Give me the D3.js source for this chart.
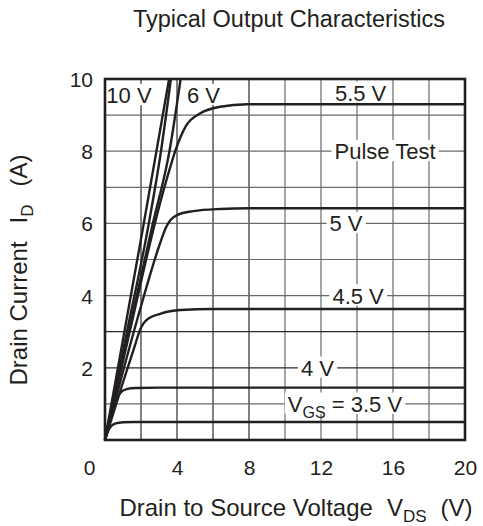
<!DOCTYPE html>
<html>
<head>
<meta charset="utf-8">
<script src="https://cdn.jsdelivr.net/npm/d3@7"></script>
<style>
  body { margin: 0; background: #fff; }
  svg { display: block; }
  text { font-family: "Liberation Sans", Arial, sans-serif; fill: #231f20; }
</style>
</head>
<body>
<svg id="chart" width="483" height="526"></svg>
<script>
// curves: drain-source voltage (V) and drain current (A)
const vgs10_vds = [0, 2.14, 3.56];
const vgs10_id = [0, 5.96, 10];
const vgs8_vds = [0, 1.2, 2.42, 3.11, 3.66];
const vgs8_id = [0, 2.95, 5.96, 8, 10];
const vgs6_vds = [0, 1.3, 2.64, 3.58, 4.2];
const vgs6_id = [0, 2.95, 5.96, 8, 10];
const vgs55_vds = [0, 1.35, 2.75, 3.3, 3.65, 3.9, 4.5, 5.3, 6.4, 7.9, 20];
const vgs55_id = [0, 2.95, 5.96, 7.0, 7.6, 8.0, 8.7, 9.05, 9.23, 9.3, 9.3];
const vgs5_vds = [0, 1.0, 1.94, 3.06, 3.4, 3.65, 4.0, 4.9, 6.4, 8, 20];
const vgs5_id = [0, 1.9, 3.6, 5.45, 5.9, 6.1, 6.23, 6.34, 6.4, 6.42, 6.42];
const vgs45_vds = [0, 1.0, 1.65, 1.93, 2.3, 3.1, 4.2, 6, 20];
const vgs45_id = [0, 1.6, 2.6, 3.03, 3.32, 3.5, 3.6, 3.63, 3.63];
const vgs4_vds = [0, 0.4, 0.65, 0.9, 1.2, 1.7, 3, 20];
const vgs4_id = [0, 0.75, 1.13, 1.33, 1.41, 1.44, 1.45, 1.45];
const vgs35_vds = [0, 0.15, 0.3, 0.6, 1.0, 1.6, 20];
const vgs35_id = [0, 0.22, 0.36, 0.46, 0.49, 0.5, 0.5];

const xTicks = [0, 4, 8, 12, 16, 20];
const yTicks = [2, 4, 6, 8, 10];

// curve labels, placed in data units
const labelText = ["10 V", "6 V", "5.5 V", "Pulse Test", "5 V", "4.5 V", "4 V", "VGS"];
const labelV = [1.33, 5.47, 14.2, 15.56, 13.39, 14.06, 11.8, 13.33];
const labelI = [9.55, 9.55, 9.62, 8, 6, 4, 2, 1];

const svg = d3.select("#chart");
const plotLeft = 105, plotRight = 465, plotTop = 79, plotBottom = 440;

const x = d3.scaleLinear().domain([0, 20]).range([plotLeft, plotRight]);
const y = d3.scaleLinear().domain([0, 10]).range([plotBottom, plotTop]);

// grid
const grid = svg.append("g");
grid.selectAll("line.v")
    .data(d3.range(2, 20, 2))
    .enter().append("line")
    .attr("x1", d => x(d)).attr("x2", d => x(d))
    .attr("y1", plotTop).attr("y2", plotBottom)
    .attr("stroke", d => d <= 8 ? "#2a2a2a" : "#6a6a6a")
    .attr("stroke-width", 1.2);
grid.selectAll("line.h")
    .data(d3.range(1, 10, 1))
    .enter().append("line")
    .attr("x1", plotLeft).attr("x2", plotRight)
    .attr("y1", d => y(d)).attr("y2", d => y(d))
    .attr("stroke", d => (d == 2 || d == 3) ? "#2a2a2a" : "#6a6a6a")
    .attr("stroke-width", 1.2);

// labels with white boxes cutting the grid
const fs = 22;
const labels = svg.append("g");
labelText.forEach(function (t, i) {
    let cx = x(labelV[i]);
    let base = y(labelI[i]) + fs * 0.36;
    let txt = labels.append("text")
        .attr("x", cx).attr("y", base)
        .attr("text-anchor", "middle")
        .style("font-size", fs + "px");
    if (t == "VGS") {
        txt.append("tspan").text("V");
        txt.append("tspan").text("GS").style("font-size", "16px").attr("dy", 6);
        txt.append("tspan").text(" = 3.5 V").attr("dy", -6);
    } else {
        txt.text(t);
    }
    let bb = txt.node().getBBox();
    labels.insert("rect", "text")
        .attr("x", bb.x - 3).attr("width", bb.width + 6)
        .attr("y", base - fs * 0.74 - 3).attr("height", fs * 0.74 + 5)
        .attr("fill", "#fff");
});

// curves
const line = d3.line()
    .x(d => x(d[0]))
    .y(d => y(d[1]))
    .curve(d3.curveMonotoneX);

const curves = [
    [vgs10_vds, vgs10_id], [vgs8_vds, vgs8_id], [vgs6_vds, vgs6_id],
    [vgs55_vds, vgs55_id], [vgs5_vds, vgs5_id], [vgs45_vds, vgs45_id],
    [vgs4_vds, vgs4_id], [vgs35_vds, vgs35_id]
];
svg.append("g").selectAll("path")
    .data(curves)
    .enter().append("path")
    .attr("d", c => line(c[0].map((v, i) => [v, c[1][i]])))
    .attr("fill", "none")
    .attr("stroke", "#231f20")
    .attr("stroke-width", 2.4)
    .attr("stroke-linejoin", "round");

// frame
svg.append("rect")
    .attr("x", plotLeft).attr("y", plotTop)
    .attr("width", plotRight - plotLeft).attr("height", plotBottom - plotTop)
    .attr("fill", "none")
    .attr("stroke", "#231f20")
    .attr("stroke-width", 2.6);

// axes (tick text only, the frame stands in for the domain)
const xAxis = d3.axisBottom(x).tickValues(xTicks).tickSize(0).tickPadding(0);
const gx = svg.append("g").attr("transform", "translate(0," + plotBottom + ")").call(xAxis);
gx.select(".domain").remove();
gx.selectAll("text")
    .attr("y", 35).attr("dy", 0)
    .attr("x", d => d == 0 ? -16 : 0)
    .style("font-size", "21px")
    .attr("font-family", null);

const yAxis = d3.axisLeft(y).tickValues(yTicks).tickSize(0).tickPadding(12);
const gy = svg.append("g").attr("transform", "translate(" + plotLeft + ",0)").call(yAxis);
gy.select(".domain").remove();
gy.selectAll("text")
    .attr("dy", "0.36em")
    .style("font-size", "21px")
    .attr("font-family", null);

// titles
svg.append("text")
    .attr("x", 289).attr("y", 27)
    .attr("text-anchor", "middle")
    .style("font-size", "23.5px")
    .text("Typical Output Characteristics");

let xt = svg.append("text")
    .attr("x", 296).attr("y", 516)
    .attr("text-anchor", "middle")
    .style("font-size", "24px");
xt.append("tspan").text("Drain to Source Voltage");
xt.append("tspan").attr("dx", 14).text("V");
xt.append("tspan").text("DS").style("font-size", "17px").attr("dy", 6);
xt.append("tspan").attr("dx", 14).attr("dy", -6).text("(V)");

let yt = svg.append("text")
    .attr("transform", "translate(27,270) rotate(-90)")
    .attr("text-anchor", "middle")
    .style("font-size", "24px");
yt.append("tspan").text("Drain Current");
yt.append("tspan").attr("dx", 18).text("I");
yt.append("tspan").text("D").style("font-size", "17px").attr("dy", 6);
yt.append("tspan").attr("dx", 18).attr("dy", -6).text("(A)");
</script>
</body>
</html>
